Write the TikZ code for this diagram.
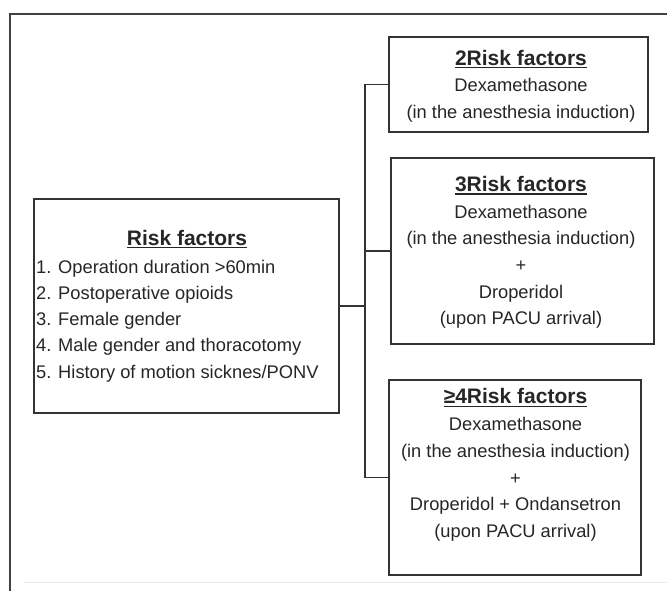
\documentclass[tikz,border=0pt]{standalone}
\usepackage{fontspec}
\setmainfont{Liberation Sans}
\newcommand\ulx[1]{\setbox0\hbox{#1}\rlap{\rule[-3.2pt]{\wd0}{1.5pt}}\box0}
\tikzset{
  box/.style={draw=black!80, line width=1.2pt, rectangle, inner sep=0pt, fill=white},
  txt/.style={text=black!85, align=center, inner sep=0pt, font=\fontsize{18.3}{26.7}\selectfont},
  ltxt/.style={text=black!85, align=left, inner sep=0pt, font=\fontsize{18.3}{26.2}\selectfont},
  ttl/.style={text=black!85, inner sep=0pt, font=\fontsize{21}{26}\selectfont\bfseries},
  conn/.style={draw=black!80, line width=1.2pt},
}
\begin{document}
\begin{tikzpicture}[x=1pt,y=-1pt]
\useasboundingbox (0,0) rectangle (667,590);
% outer frame
\draw[black!75, line width=1.4pt] (10,591) -- (10,14) -- (668,14);
\draw[black!8, line width=1pt] (24,582) -- (668,582);
% boxes
\node[box, minimum width=305pt, minimum height=214pt] (L) at (186.5,306) {};
\node[box, minimum width=259pt, minimum height=95pt] (b2) at (518.5,84.5) {};
\node[box, minimum width=263pt, minimum height=186pt] (b3) at (522.5,251) {};
\node[box, minimum width=252pt, minimum height=195pt] (b4) at (515,477.5) {};
% texts
\node[ttl] (Lt) at (187,239) {\ulx{Risk factors}};
\node[ltxt, anchor=west] (Ll) at (36,321) {1. Operation duration >60min\\2. Postoperative opioids\\3. Female gender\\4. Male gender and thoracotomy\\5. History of motion sicknes/PONV};
\node[txt] (t2) at (521,86) {{\fontsize{21}{26}\selectfont\bfseries\ulx{2Risk factors}}\\Dexamethasone\\(in the anesthesia induction)};
\node[txt] (t3) at (521,252.5) {{\fontsize{21}{26}\selectfont\bfseries\ulx{3Risk factors}}\\Dexamethasone\\(in the anesthesia induction)\\+\\Droperidol\\(upon PACU arrival)};
\node[txt] (t4) at (515.5,465) {{\fontsize{21}{26}\selectfont\bfseries\ulx{≥4Risk factors}}\\Dexamethasone\\(in the anesthesia induction)\\+\\Droperidol + Ondansetron\\(upon PACU arrival)};
% connectors
\coordinate (J) at (365,306);
\draw[conn] (L.east) -- (J);
\draw[conn] (J) |- (b2.west);
\draw[conn] (J) |- (b3.west);
\draw[conn] (J) |- (b4.west);
\end{tikzpicture}
\end{document}
